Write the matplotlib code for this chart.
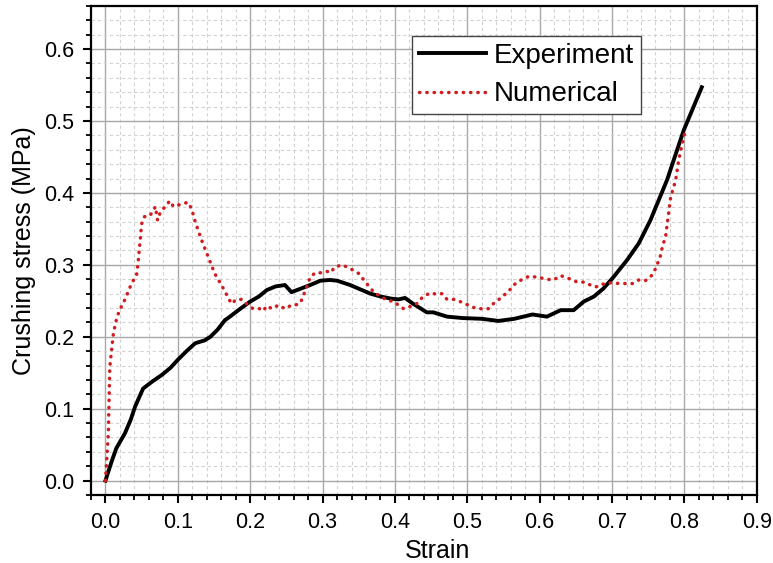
import matplotlib.pyplot as plt
from matplotlib.ticker import MultipleLocator

plt.rcParams['font.family'] = ['Liberation Sans', 'DejaVu Sans']

# Experiment curve (strain, crushing stress in MPa)
exp_strain = [0, 0.008, 0.015, 0.027, 0.035, 0.041, 0.052, 0.065, 0.078, 0.09,
              0.1, 0.112, 0.124, 0.137, 0.145, 0.155, 0.165, 0.172, 0.185, 0.2,
              0.212, 0.223, 0.235, 0.248, 0.257, 0.27, 0.283, 0.297, 0.31, 0.32,
              0.338, 0.352, 0.366, 0.38, 0.395, 0.405, 0.414, 0.425, 0.444, 0.453,
              0.472, 0.494, 0.52, 0.543, 0.565, 0.59, 0.61, 0.629, 0.647, 0.661,
              0.675, 0.688, 0.702, 0.721, 0.737, 0.753, 0.776, 0.799, 0.824]
exp_stress = [0, 0.025, 0.045, 0.066, 0.085, 0.103, 0.128, 0.138, 0.147, 0.157,
              0.168, 0.18, 0.191, 0.195, 0.2, 0.21, 0.223, 0.228, 0.238, 0.249,
              0.256, 0.265, 0.27, 0.272, 0.262, 0.267, 0.272, 0.278, 0.279, 0.278,
              0.272, 0.266, 0.26, 0.256, 0.253, 0.252, 0.254, 0.246, 0.234, 0.234,
              0.228, 0.226, 0.225, 0.222, 0.225, 0.231, 0.228, 0.237, 0.237, 0.249,
              0.256, 0.267, 0.283, 0.307, 0.33, 0.362, 0.418, 0.487, 0.547]

# Numerical curve
num_strain = [0, 0.004, 0.006, 0.011, 0.016, 0.022, 0.027, 0.036, 0.043, 0.045,
              0.048, 0.05, 0.054, 0.061, 0.066, 0.069, 0.072, 0.075, 0.08, 0.089,
              0.094, 0.1, 0.107, 0.114, 0.119, 0.124, 0.133, 0.142, 0.151, 0.163,
              0.174, 0.181, 0.188, 0.195, 0.204, 0.214, 0.218, 0.223, 0.23, 0.239,
              0.248, 0.257, 0.267, 0.271, 0.278, 0.283, 0.29, 0.299, 0.306, 0.311,
              0.317, 0.327, 0.338, 0.35, 0.361, 0.37, 0.38, 0.389, 0.398, 0.412,
              0.421, 0.43, 0.439, 0.449, 0.458, 0.465, 0.472, 0.481, 0.49, 0.499,
              0.513, 0.529, 0.536, 0.545, 0.557, 0.564, 0.576, 0.585, 0.596, 0.61,
              0.619, 0.629, 0.638, 0.652, 0.661, 0.67, 0.677, 0.686, 0.698, 0.711,
              0.728, 0.737, 0.746, 0.753, 0.758, 0.763, 0.767, 0.77, 0.774, 0.776,
              0.781, 0.788, 0.792, 0.797, 0.801]
num_stress = [0, 0.066, 0.158, 0.205, 0.228, 0.242, 0.252, 0.274, 0.286, 0.302,
              0.334, 0.357, 0.367, 0.368, 0.375, 0.381, 0.362, 0.371, 0.378, 0.389,
              0.381, 0.383, 0.385, 0.387, 0.378, 0.36, 0.334, 0.311, 0.288, 0.267,
              0.246, 0.252, 0.252, 0.246, 0.239, 0.239, 0.236, 0.243, 0.239, 0.244,
              0.239, 0.244, 0.245, 0.251, 0.269, 0.283, 0.289, 0.289, 0.291, 0.289,
              0.297, 0.3, 0.295, 0.288, 0.274, 0.263, 0.256, 0.251, 0.249, 0.239,
              0.242, 0.246, 0.256, 0.261, 0.259, 0.26, 0.252, 0.252, 0.249, 0.245,
              0.239, 0.239, 0.246, 0.253, 0.263, 0.272, 0.28, 0.284, 0.283, 0.28,
              0.279, 0.285, 0.282, 0.276, 0.276, 0.272, 0.269, 0.273, 0.275, 0.274,
              0.274, 0.279, 0.278, 0.283, 0.29, 0.302, 0.313, 0.327, 0.339, 0.355,
              0.394, 0.418, 0.445, 0.469, 0.485]

fig = plt.figure(figsize=(7.73, 5.63), dpi=100)
ax = fig.add_axes([0.1177, 0.1208, 0.8613, 0.8686])

ax.plot(exp_strain, exp_stress, color='black', lw=2.8, label='Experiment',
        solid_joinstyle='round', zorder=3)
ax.plot(num_strain, num_stress, color='#d01c1f', lw=2.5, ls=(0, (0.1, 2.0)),
        dash_capstyle='round', label='Numerical', zorder=3)

ax.set_xlim(-0.02, 0.9)
ax.set_ylim(-0.02, 0.66)
ax.xaxis.set_major_locator(MultipleLocator(0.1))
ax.xaxis.set_minor_locator(MultipleLocator(0.02))
ax.yaxis.set_major_locator(MultipleLocator(0.1))
ax.yaxis.set_minor_locator(MultipleLocator(0.02))
ax.xaxis.set_major_formatter(plt.FormatStrFormatter('%.1f'))
ax.yaxis.set_major_formatter(plt.FormatStrFormatter('%.1f'))

ax.grid(which='major', color='#a8a8a8', lw=1.0, ls='-')
ax.grid(which='minor', color='#d2d2d2', lw=0.8, ls=(0, (3, 2.5)))
ax.set_axisbelow(True)

for s in ax.spines.values():
    s.set_linewidth(1.6)
ax.tick_params(which='major', direction='out', length=6, width=1.5, labelsize=15.5, pad=6)
ax.tick_params(which='minor', direction='out', length=3.5, width=1.3)

ax.set_xlabel('Strain', fontsize=18)
ax.xaxis.set_label_coords(0.52, -0.09)
ax.set_ylabel('Crushing stress (MPa)', fontsize=18, labelpad=6)

leg = ax.legend(loc='upper left', bbox_to_anchor=(0.482, 0.939), fontsize=20,
                frameon=True, fancybox=False, edgecolor='#444444', framealpha=1,
                handlelength=2.4, handletextpad=0.3, borderpad=0.25,
                labelspacing=0.45, borderaxespad=0)
leg.get_frame().set_linewidth(1.0)

fig.savefig('out.png', dpi=100)
